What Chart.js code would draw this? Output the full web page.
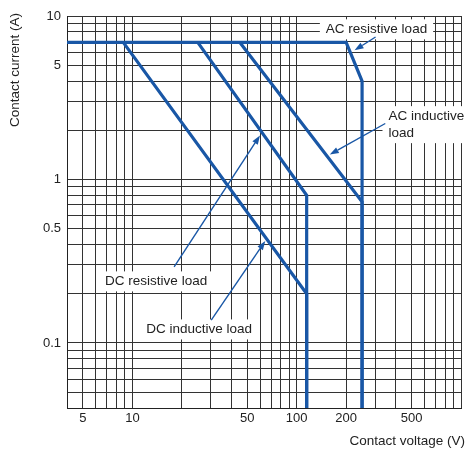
<!DOCTYPE html>
<html>
<head>
<meta charset="utf-8">
<script src="https://cdn.jsdelivr.net/npm/chart.js@4.4.1/dist/chart.umd.min.js"></script>
<style>
  html, body { margin: 0; padding: 0; background: #fff; }
  #wrap { width: 467px; height: 450px; }
</style>
</head>
<body>
<div id="wrap"><canvas id="chart" width="467" height="450"></canvas></div>
<script>
// contact voltage (V) / contact current (A) for each load curve
const acResistiveV = [4, 200, 250, 250];
const acResistiveA = [6.9, 6.9, 4, 0.04];
const acInductiveV = [45, 250, 250];
const acInductiveA = [6.9, 0.73, 0.04];
const dcResistiveV = [25, 115, 115];
const dcResistiveA = [6.9, 0.8, 0.04];
const dcInductiveV = [8.8, 115, 115];
const dcInductiveA = [6.9, 0.2, 0.04];

const xGridValues = [4, 5, 6, 7, 8, 9, 10, 20, 30, 40, 50, 60, 70, 80, 90,
  100, 200, 300, 400, 500, 600, 700, 800, 900, 1000];
const yGridValues = [0.04, 0.05, 0.06, 0.07, 0.08, 0.09, 0.1, 0.2, 0.3, 0.4, 0.5,
  0.6, 0.7, 0.8, 0.9, 1, 2, 3, 4, 5, 6, 7, 8, 9, 10];
const xTickLabels = [5, 10, 50, 100, 200, 500];
const yTickLabels = [0.1, 0.5, 1, 5, 10];

const BLUE = '#1957a6';
const INK = '#222';
const FONT = "'Liberation Sans', Arial, sans-serif";

const toPoints = (vs, as) => vs.map((v, i) => ({ x: v, y: as[i] }));

// callouts, anchored in data units (V, A)
const callouts = [
  { lines: ['AC resistive load'], at: [306, 8.29], align: 'center', from: [302, 7.44], to: [225, 6.17] },
  { lines: ['AC inductive', 'load'], at: [362, 2.44], align: 'left', from: [346, 2.2], to: [159, 1.42] },
  { lines: ['DC resistive load'], at: [13.95, 0.238], align: 'center', from: [17.95, 0.292], to: [59.8, 1.86] },
  { lines: ['DC inductive load'], at: [25.5, 0.121], align: 'center', from: [30.2, 0.138], to: [64.4, 0.421] }
];

function calloutBox(ctx, c, x, y) {
  const px = x.getPixelForValue(c.at[0]);
  const py = y.getPixelForValue(c.at[1]);
  const w = Math.max(...c.lines.map(t => ctx.measureText(t).width));
  const lh = 17;
  const left = c.align === 'left' ? px : px - w / 2;
  return { px, py, w, lh, left, top: py - 10, bottom: py + (c.lines.length - 1) * lh + 10 };
}

const calloutPlugin = {
  id: 'callouts',
  beforeDatasetsDraw(chart) {
    const { ctx, scales: { x, y } } = chart;
    ctx.save();
    ctx.font = `13.5px ${FONT}`;
    ctx.fillStyle = '#fff';
    for (const c of callouts) {
      const b = calloutBox(ctx, c, x, y);
      ctx.fillRect(b.left - 6, b.top, b.w + 12, b.bottom - b.top);
    }
    ctx.restore();
  },
  afterDatasetsDraw(chart) {
    const { ctx, scales: { x, y } } = chart;
    ctx.save();
    // arrows
    ctx.strokeStyle = BLUE;
    ctx.fillStyle = BLUE;
    ctx.lineWidth = 1.4;
    for (const c of callouts) {
      const x1 = x.getPixelForValue(c.from[0]), y1 = y.getPixelForValue(c.from[1]);
      const x2 = x.getPixelForValue(c.to[0]), y2 = y.getPixelForValue(c.to[1]);
      const ang = Math.atan2(y2 - y1, x2 - x1);
      const hl = 9, hw = 3.2;
      const bx = x2 - hl * Math.cos(ang), by = y2 - hl * Math.sin(ang);
      ctx.beginPath();
      ctx.moveTo(x1, y1);
      ctx.lineTo(bx, by);
      ctx.stroke();
      ctx.beginPath();
      ctx.moveTo(x2, y2);
      ctx.lineTo(bx + hw * Math.sin(ang), by - hw * Math.cos(ang));
      ctx.lineTo(bx - hw * Math.sin(ang), by + hw * Math.cos(ang));
      ctx.closePath();
      ctx.fill();
    }
    // texts
    ctx.font = `13.5px ${FONT}`;
    ctx.fillStyle = INK;
    ctx.textBaseline = 'middle';
    for (const c of callouts) {
      const b = calloutBox(ctx, c, x, y);
      ctx.textAlign = c.align;
      c.lines.forEach((t, i) => ctx.fillText(t, b.px, b.py + i * b.lh));
    }
    ctx.restore();
  },
  afterDraw(chart) {
    const { ctx } = chart;
    ctx.save();
    ctx.font = `13.5px ${FONT}`;
    ctx.fillStyle = INK;
    ctx.textBaseline = 'middle';
    ctx.textAlign = 'right';
    ctx.fillText('Contact voltage (V)', 465, 441);
    ctx.translate(15, 70);
    ctx.rotate(-Math.PI / 2);
    ctx.textAlign = 'center';
    ctx.fillText('Contact current (A)', 0, 0);
    ctx.restore();
  }
};

const lineStyle = {
  borderColor: BLUE,
  borderWidth: 3.2,
  pointRadius: 0,
  fill: false,
  tension: 0,
  borderJoinStyle: 'miter',
  showLine: true
};

new Chart(document.getElementById('chart'), {
  type: 'line',
  data: {
    datasets: [
      { label: 'AC resistive load', data: toPoints(acResistiveV, acResistiveA), ...lineStyle },
      { label: 'AC inductive load', data: toPoints(acInductiveV, acInductiveA), ...lineStyle },
      { label: 'DC resistive load', data: toPoints(dcResistiveV, dcResistiveA), ...lineStyle },
      { label: 'DC inductive load', data: toPoints(dcInductiveV, dcInductiveA), ...lineStyle }
    ]
  },
  options: {
    responsive: false,
    animation: false,
    devicePixelRatio: 1,
    layout: { padding: { top: 16, right: 6, left: 0, bottom: 0 } },
    plugins: { legend: { display: false }, tooltip: { enabled: false } },
    scales: {
      x: {
        type: 'logarithmic',
        min: 4,
        max: 1000,
        afterBuildTicks: s => { s.ticks = xGridValues.map(v => ({ value: v })); },
        afterFit: s => { s.height = 42; },
        ticks: {
          autoSkip: false,
          maxRotation: 0,
          padding: 3,
          color: INK,
          font: { family: FONT, size: 13 },
          callback: v => xTickLabels.includes(v) ? String(v) : ''
        },
        grid: { color: '#333', lineWidth: 1, drawTicks: false },
        border: { color: '#222', width: 1 }
      },
      y: {
        type: 'logarithmic',
        min: 0.04,
        max: 10,
        afterBuildTicks: s => { s.ticks = yGridValues.map(v => ({ value: v })); },
        afterFit: s => { s.width = 67; },
        ticks: {
          autoSkip: false,
          padding: 6,
          color: INK,
          font: { family: FONT, size: 13 },
          callback: v => yTickLabels.includes(v) ? String(v) : ''
        },
        grid: { color: '#333', lineWidth: 1, drawTicks: false },
        border: { color: '#222', width: 1 }
      }
    }
  },
  plugins: [calloutPlugin]
});
</script>
</body>
</html>
